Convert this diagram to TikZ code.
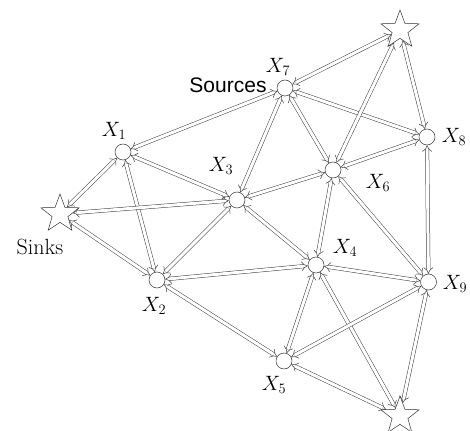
\documentclass[tikz,border=0pt]{standalone}
\usepackage{fontspec}
\newfontfamily\srcfont{Liberation Sans}
\usetikzlibrary{arrows.meta,shapes.geometric}
\tikzset{
  vtx/.style={circle,draw=black!80,line width=0.5pt,fill=white,minimum size=16pt,inner sep=0pt},
  sink/.style={star,star points=5,star point ratio=2.4,draw=black!80,line width=0.5pt,fill=white,minimum size=40pt,inner sep=0pt},
  lbl/.style={font=\fontsize{21}{24}\selectfont,inner sep=0pt},
  flow/.style={draw=black!75,line width=0.5pt,double=white,double distance=3pt,
    {Implies[scale=1.5]}-{Implies[scale=1.5]}},
}
\begin{document}
\begin{tikzpicture}[x=1pt,y=-1pt]
\useasboundingbox (0,0) rectangle (470,430);
% nodes
\node[sink] (T) at (400,30) {};
\node[sink] (L) at (60,214) {};
\node[sink] (B) at (400,416) {};
\node[vtx] (X7) at (285,88) {};
\node[vtx] (X1) at (123,152) {};
\node[vtx] (X8) at (427,137) {};
\node[vtx] (X3) at (237,200) {};
\node[vtx] (X6) at (333,170) {};
\node[vtx] (X2) at (157,280) {};
\node[vtx] (X4) at (316,265) {};
\node[vtx] (X9) at (428.5,282) {};
\node[vtx] (X5) at (284,361) {};
% labels
\node[lbl] (l1) at (114,131) {$X_1$};
\node[lbl] (l7) at (278,67) {$X_7$};
\node[lbl] (l3) at (221,166) {$X_3$};
\node[lbl] (l6) at (378,183) {$X_6$};
\node[lbl] (l8) at (454,137) {$X_8$};
\node[lbl] (l4) at (345,248) {$X_4$};
\node[lbl] (l9) at (455,284) {$X_9$};
\node[lbl] (l2) at (154,306) {$X_2$};
\node[lbl] (l5) at (274,385) {$X_5$};
\node[font=\srcfont\fontsize{21}{24}\selectfont,inner sep=0pt] (src) at (228,85) {Sources};
\node[font=\fontsize{22}{25}\selectfont,inner sep=0pt] (snk) at (40,247) {Sinks};
% edges
\foreach \a/\b in {X1/X7, X7/T, X7/X8, X7/X3, X7/X6, T/X6, T/X8, X8/X6, X8/X9,
  X6/X3, X6/X4, X6/X9, X1/X3, X1/L, X1/X2, L/X3, L/X2, X3/X2, X3/X4, X2/X4,
  X2/X5, X4/X9, X4/X5, X4/B, X5/X9, X5/B, X9/B}
  \draw[flow] (\a) -- (\b);
\end{tikzpicture}
\end{document}
